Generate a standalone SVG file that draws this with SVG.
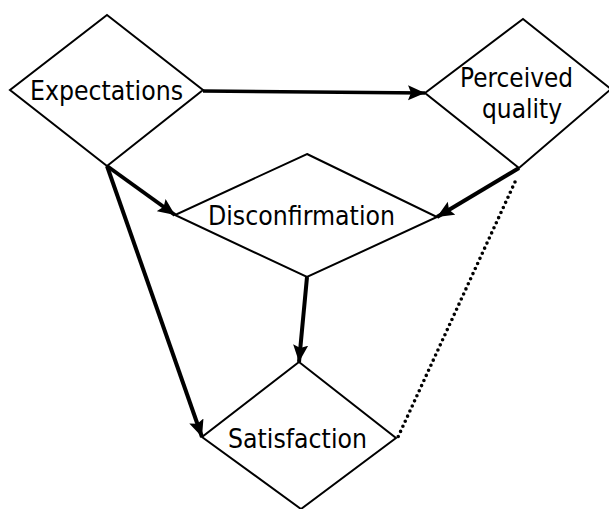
<svg xmlns="http://www.w3.org/2000/svg" width="609" height="509" viewBox="0 0 609 509">
  <defs>
    <style>
      .node { fill: #ffffff; stroke: #000000; stroke-width: 2; stroke-linejoin: miter; }
      .label { font-family: "DejaVu Sans", "Liberation Sans", sans-serif; font-size: 27px; fill: #000000; }
      .link { fill: none; stroke: #000000; stroke-width: 4; }
      .link-thin { fill: none; stroke: #000000; stroke-width: 3.5; }
      .dotted { fill: none; stroke: #000000; stroke-width: 3.6; stroke-linecap: round; stroke-dasharray: 0 5.6; }
    </style>
    <marker id="arrow" markerUnits="userSpaceOnUse" markerWidth="20" markerHeight="16" refX="17" refY="7.5" orient="auto">
      <path d="M0,0 L17,7.5 L0,15 L3,7.5 z" fill="#000000"/>
    </marker>
  </defs>

  <rect width="609" height="509" fill="#ffffff"/>

  <!-- concepts -->
  <g id="expectations">
    <polygon class="node" points="107,15 203,90 107,166 10,90"/>
    <text class="label" x="30" y="100" textLength="153" lengthAdjust="spacingAndGlyphs">Expectations</text>
  </g>

  <g id="perceived-quality">
    <polygon class="node" points="523,19 611,89 519,168 425,93"/>
    <text class="label" x="460" y="87" textLength="113" lengthAdjust="spacingAndGlyphs">Perceived</text>
    <text class="label" x="482" y="118" textLength="80" lengthAdjust="spacingAndGlyphs">quality</text>
  </g>

  <g id="disconfirmation">
    <polygon class="node" points="307,154 437,217 307,277 175,215"/>
    <text class="label" x="208" y="225" textLength="187" lengthAdjust="spacingAndGlyphs">Disconfirmation</text>
  </g>

  <g id="satisfaction">
    <polygon class="node" points="299,362 396,438 301,509 202,437"/>
    <text class="label" x="228" y="448" textLength="139" lengthAdjust="spacingAndGlyphs">Satisfaction</text>
  </g>

  <!-- relations -->
  <g id="connectors">
    <line class="link-thin" x1="203" y1="91" x2="425" y2="93" marker-end="url(#arrow)"/>
    <line class="link" x1="107" y1="166" x2="175" y2="215" marker-end="url(#arrow)"/>
    <line class="link" x1="107" y1="166" x2="202" y2="437" marker-end="url(#arrow)"/>
    <line class="link" x1="519" y1="168" x2="437" y2="217" marker-end="url(#arrow)"/>
    <line class="link" x1="307" y1="277" x2="299" y2="362" marker-end="url(#arrow)"/>
    <line class="dotted" x1="515" y1="182" x2="398" y2="437"/>
  </g>
</svg>
